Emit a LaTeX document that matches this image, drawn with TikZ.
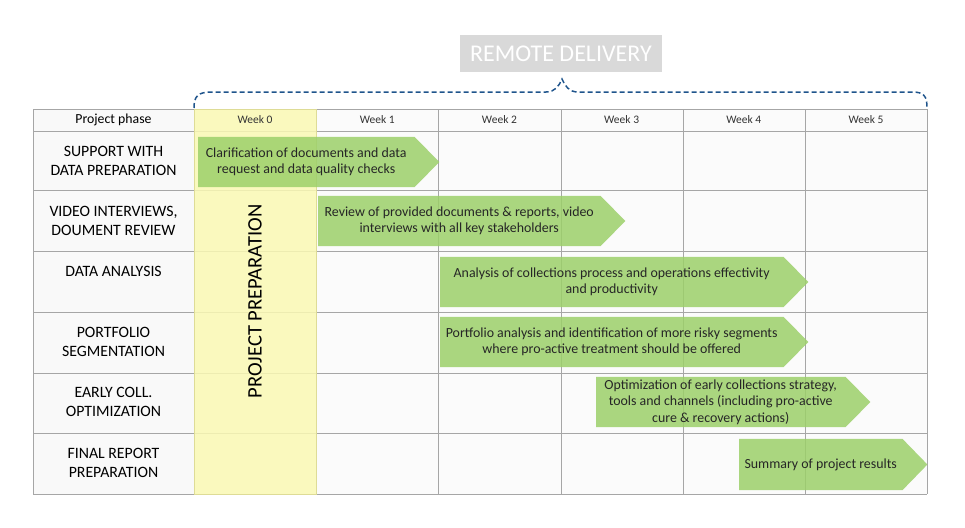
\documentclass[tikz,border=0pt]{standalone}
\usepackage{fontspec}
\setmainfont{Carlito}
\usetikzlibrary{arrows.meta}

\definecolor{bargreen}{RGB}{156,208,106}
\definecolor{prepyellow}{RGB}{250,249,180}
\definecolor{prepline}{RGB}{222,220,150}
\definecolor{braceblue}{RGB}{31,84,140}
\definecolor{gridgray}{RGB}{166,166,166}

\pgfdeclarelayer{background}
\pgfdeclarelayer{bars}
\pgfsetlayers{background,bars,main}

\begin{document}
\begin{tikzpicture}[
  x=1pt, y=-1pt,
  gridline/.style={draw=gridgray, line width=1pt},
  phase/.style={align=center, font=\fontsize{15.8}{19}\selectfont},
  week/.style={font=\fontsize{11.5}{12}\selectfont, text=black!80},
  bar/.style={align=center, anchor=west, inner sep=0pt, minimum height=50,
    text=black!85, font=\fontsize{13.9}{16.5}\selectfont},
  barfill/.style={fill=bargreen, fill opacity=0.85},
  title/.style={fill=gray!30, text=white, minimum width=202, minimum height=37,
    font=\fontsize{24}{26}\selectfont},
  brace/.style={draw=braceblue, line width=1.5pt, dash pattern=on 5pt off 3pt}
]
\useasboundingbox (0,0) rectangle (965,527);

% table
\begin{pgfonlayer}{background}
  \fill[gray!5] (33,109) rectangle (194,494);
  \fill[gray!3] (194,109) rectangle (927,494);
  \foreach \y in {109,131,190,251,312,373,433,494}
    \draw[gridline] (33,\y) -- (927,\y);
  \foreach \x in {33,194,316,438,561,683,805,927}
    \draw[gridline] (\x,109) -- (\x,494);
  \fill[prepyellow, fill opacity=0.85] (194,109) rectangle (316,494);
  \draw[prepline] (194,109) rectangle (316,494);
\end{pgfonlayer}

\node[title] (remote) at (561,53.5) {REMOTE DELIVERY};
\draw[brace] (194,108) .. controls (194,96) and (198,92) .. (212,92) -- (546,92)
  .. controls (555,92) and (559,86) .. (562,79)
  .. controls (565,86) and (569,92) .. (578,92) -- (912,92)
  .. controls (924,92) and (927,96) .. (927,108);

% header
\node[font=\fontsize{13.8}{16}\selectfont] (phasehead) at (113.5,120) {Project phase};
\foreach \i in {0,...,5}
  \node[week] (week\i) at ({255.1+122.17*\i},120) {Week \i};

% phases
\node[phase] (support) at (113.5,160.5) {SUPPORT WITH\\DATA PREPARATION};
\node[phase] (video) at (113.5,220.5) {VIDEO INTERVIEWS,\\DOUMENT REVIEW};
\node[phase] (analysis) at (113.5,271) {DATA ANALYSIS};
\node[phase] (portfolio) at (113.5,342) {PORTFOLIO\\SEGMENTATION};
\node[phase] (early) at (113.5,402) {EARLY COLL.\\OPTIMIZATION};
\node[phase] (final) at (113.5,463) {FINAL REPORT\\PREPARATION};

\node[rotate=90, font=\fontsize{20.6}{22}\selectfont] (prep) at (255,301.5) {PROJECT PREPARATION};

% activity bars
\node[bar, minimum width=216] (clarify) at (198,162)
  {Clarification of documents and data\\request and data quality checks};
\node[bar, minimum width=282] (review) at (318,221)
  {Review of provided documents \& reports, video\\interviews with all key stakeholders};
\node[bar, minimum width=343] (collect) at (440,282)
  {Analysis of collections process and operations effectivity\\and productivity};
\node[bar, minimum width=343] (segment) at (440,342)
  {Portfolio analysis and identification of more risky segments\\where pro-active treatment should be offered};
\node[bar, minimum width=249] (strategy) at (596,402)
  {Optimization of early collections strategy,\\tools and channels (including pro-active\\cure \& recovery actions)};
\node[bar, minimum width=163, minimum height=51] (summary) at (739,464.5)
  {Summary of project results};

\begin{pgfonlayer}{bars}
  \foreach \b in {clarify,review,collect,segment,strategy,summary}
    \fill[barfill] (\b.north west) -- (\b.north east) -- ([xshift=25pt]\b.east)
      -- (\b.south east) -- (\b.south west) -- cycle;
\end{pgfonlayer}
\end{tikzpicture}
\end{document}
